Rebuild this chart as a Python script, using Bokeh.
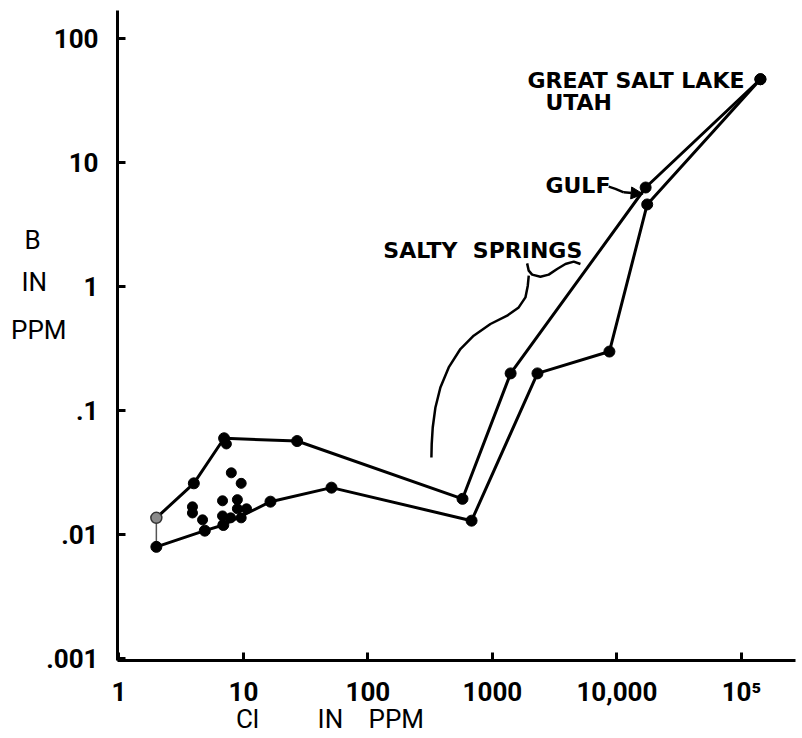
from bokeh.plotting import figure
from bokeh.models import Range1d, FixedTicker, Label, Arrow, NormalHead, LogAxis
from bokeh.embed import file_html
from bokeh.resources import INLINE

# ---- data (Cl in ppm, B in ppm) ----
upper_cl = [2, 4, 7, 27, 575, 1400, 17000, 142000]
upper_b = [0.0137, 0.026, 0.060, 0.057, 0.0195, 0.20, 6.3, 47]

lower_cl = [2, 4.9, 6.9, 16.5, 51, 680, 2300, 8700, 17500, 142000]
lower_b = [0.008, 0.0108, 0.012, 0.0185, 0.024, 0.013, 0.20, 0.30, 4.6, 47]

scatter_cl = [8.0, 9.6, 3.9, 3.9, 4.7, 6.8, 8.95, 6.8, 7.9, 8.95, 10.6, 9.6, 7.3]
scatter_b = [0.0316, 0.026, 0.0168, 0.015, 0.0132, 0.0188, 0.0192, 0.0142,
             0.0137, 0.0162, 0.0162, 0.0137, 0.054]

# annotation curve for "SALTY SPRINGS" (data units)
springs_curve_cl = [323.6, 325.4, 331.6, 348.5, 382, 445.6, 553, 707, 964,
                    1313, 1626, 1841, 1923, 1958]
springs_curve_b = [0.0420, 0.0539, 0.0733, 0.1063, 0.1541, 0.2234, 0.3145,
                   0.4026, 0.5003, 0.5836, 0.6808, 0.8197, 1.019, 1.227]
brace_cl = [1900, 1957, 2084, 2429, 2833, 3309, 3858, 4498, 5092]
brace_b = [1.541, 1.346, 1.250, 1.204, 1.250, 1.389, 1.524, 1.591, 1.524]

gulf_arrow_cl = [8590, 9727, 11340, 16230]
gulf_arrow_b = [6.40, 6.14, 5.76, 5.59]

x_ticks = [1.0, 10.0, 100.0, 1000.0, 10000.0, 100000.0]
x_tick_labels = ["1", "10", "100", "1000", "10,000", "10\u2075"]
y_ticks = [0.001, 0.01, 0.1, 1.0, 10.0, 100.0]
y_tick_labels = [".001", ".01", ".1", "1", "10", "100"]

# axis titles, placed at data positions along each axis
x_title_pos = [10.8, 50.0, 169.0]
x_title_words = ["Cl", "IN", "PPM"]
y_title_pos = [2.39, 1.097, 0.45]
y_title_words = ["B\u00a0\u00a0\u00a0\u00a0", "IN\u00a0\u00a0\u00a0", "PPM"]

p = figure(width=800, height=736, x_axis_type="log", y_axis_type="log",
           x_range=Range1d(0.975, 10 ** 5.434),
           y_range=Range1d(10 ** -3.013, 10 ** 2.226),
           output_backend="svg", toolbar_location=None,
           min_border_left=117, min_border_right=5,
           min_border_top=10, min_border_bottom=76)
p.xgrid.visible = False
p.ygrid.visible = False
p.outline_line_color = None
p.background_fill_color = "white"
p.border_fill_color = "white"

for ax, ticks, labels, standoff in ((p.xaxis[0], x_ticks, x_tick_labels, 16),
                                    (p.yaxis[0], y_ticks, y_tick_labels, 19)):
    ax.ticker = FixedTicker(ticks=ticks)
    ax.major_label_overrides = dict(zip(ticks, labels))
    ax.axis_line_width = 3
    ax.axis_line_color = "black"
    ax.major_tick_in = 8
    ax.major_tick_out = 0
    ax.major_tick_line_width = 3
    ax.minor_tick_line_color = None
    ax.major_label_text_font = "Roboto"
    ax.major_label_text_font_size = "26px"
    ax.major_label_text_font_style = "bold"
    ax.major_label_text_color = "black"
    ax.major_label_standoff = standoff

# title axes (label-only)
for side, ticks, words, standoff in (("below", x_title_pos, x_title_words, -12),
                                     ("left", y_title_pos, y_title_words, -29)):
    t_ax = LogAxis(ticker=FixedTicker(ticks=ticks),
                   major_label_overrides=dict(zip(ticks, words)))
    t_ax.axis_line_color = None
    t_ax.major_tick_line_color = None
    t_ax.minor_tick_line_color = None
    t_ax.major_label_text_font = "Roboto"
    t_ax.major_label_text_font_size = "26px"
    t_ax.major_label_text_color = "black"
    t_ax.major_label_standoff = standoff
    p.add_layout(t_ax, side)

LW = 3
p.line(upper_cl, upper_b, line_width=LW, line_color="black")
p.line(lower_cl, lower_b, line_width=LW, line_color="black")
p.segment(x0=[upper_cl[0]], y0=[upper_b[0]], x1=[lower_cl[0]], y1=[lower_b[0]],
          line_width=1.5, line_color="#555555")

p.scatter(upper_cl[1:], upper_b[1:], size=11, fill_color="black", line_color="black")
p.scatter(lower_cl, lower_b, size=11, fill_color="black", line_color="black")
p.scatter([upper_cl[0]], [upper_b[0]], size=11, fill_color="#8a8a8a", line_color="#333333", line_width=1.5)
p.scatter(scatter_cl, scatter_b, size=10, fill_color="black", line_color="black")

# annotations
p.line(springs_curve_cl, springs_curve_b, line_width=2.5, line_color="black")
p.line(brace_cl, brace_b, line_width=2.5, line_color="black")
p.line(gulf_arrow_cl[:3], gulf_arrow_b[:3], line_width=2.5, line_color="black")
p.add_layout(Arrow(end=NormalHead(size=12, fill_color="black", line_color="black"),
                   x_start=gulf_arrow_cl[2], y_start=gulf_arrow_b[2],
                   x_end=gulf_arrow_cl[3], y_end=gulf_arrow_b[3],
                   line_width=2.5, line_color="black"))

def add_text(txt, x, y, size):
    p.add_layout(Label(x=x, y=y, text=txt, text_font="DejaVu Sans",
                       text_font_size=size, text_font_style="bold",
                       text_baseline="middle", text_align="left", text_color="black"))

add_text("GREAT SALT LAKE", 1910, 46.2, "22px")
add_text("UTAH", 2665, 30.5, "22px")
add_text("GULF", 2666, 6.53, "22px")
add_text("SALTY\u00a0\u00a0SPRINGS", 133, 1.95, "22px")

open("out.html", "w").write(file_html(p, INLINE))
